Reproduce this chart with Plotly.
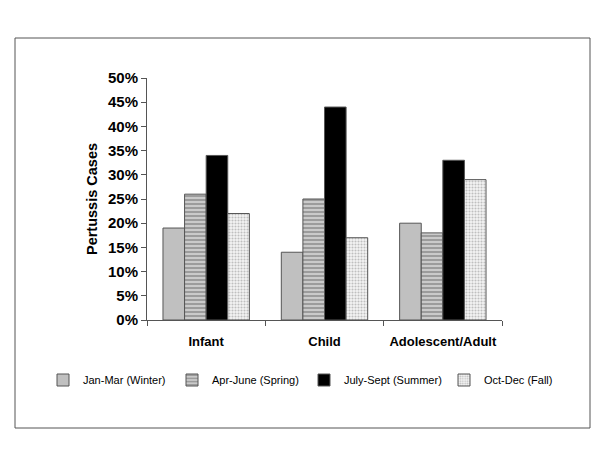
import plotly.graph_objects as go

categories = ["Infant", "Child", "Adolescent/Adult"]
series_names = ["Jan-Mar (Winter)", "Apr-June (Spring)", "July-Sept (Summer)", "Oct-Dec (Fall)"]
winter = [19, 14, 20]
spring = [26, 25, 18]
summer = [34, 44, 33]
fall = [22, 17, 29]
y_ticks = [0, 5, 10, 15, 20, 25, 30, 35, 40, 45, 50]
y_tick_labels = [f"{v}%" for v in y_ticks]

W, H = 600, 455
OFF = 8  # page body margin
# desired plot area in window pixels
PL, PR, PT, PB = 147, 502, 78, 320
L, R, T, B = PL - OFF, W - (PR - OFF), PT - OFF, H - (PB - OFF)
PW, PH = PR - PL, PB - PT

def px(x):
    return (x - PL) / PW

def py(y):
    return (PB - y) / PH

FONT = "Liberation Sans, Arial, sans-serif"
outline = dict(color="#555555", width=1)

fig = go.Figure()
fig.add_trace(go.Bar(x=categories, y=winter, name=series_names[0], legend="legend",
                     marker=dict(color="#c0c0c0", line=outline)))
fig.add_trace(go.Bar(x=categories, y=spring, name=series_names[1], legend="legend2",
                     marker=dict(color="#c8c8c8", line=outline,
                                 pattern=dict(shape="-", fgcolor="#6e6e6e", bgcolor="#cacaca",
                                              size=4, solidity=0.5))))
fig.add_trace(go.Bar(x=categories, y=summer, name=series_names[2], legend="legend3",
                     marker=dict(color="#000000", line=outline)))
fig.add_trace(go.Bar(x=categories, y=fall, name=series_names[3], legend="legend4",
                     marker=dict(color="#eeeeee", line=outline,
                                 pattern=dict(shape=".", fgcolor="#8a8a8a", bgcolor="#f4f4f4",
                                              size=3, solidity=0.4))))

def leg(xpix):
    return dict(orientation="h", x=px(xpix), xanchor="left", y=py(380), yanchor="middle",
                font=dict(family=FONT, size=11, color="#000000"),
                bgcolor="rgba(0,0,0,0)")

fig.update_layout(
    width=W, height=H,
    margin=dict(l=L, r=R, t=T, b=B, autoexpand=False),
    paper_bgcolor="white", plot_bgcolor="white",
    barmode="group", bargap=0.27, bargroupgap=0,
    font=dict(family=FONT, color="#000000"),
    showlegend=True,
    legend=leg(43), legend2=leg(172), legend3=leg(304), legend4=leg(444),
    xaxis=dict(showline=True, linecolor="#555555", linewidth=1,
               ticks="outside", ticklen=5, tickcolor="#555555",
               tickson="boundaries", ticklabelstandoff=9,
               tickfont=dict(family=FONT, size=13, color="#000000", weight="bold"),
               showgrid=False, zeroline=False),
    yaxis=dict(range=[0, 50], tickvals=y_ticks, ticktext=y_tick_labels,
               showline=True, linecolor="#555555", linewidth=1,
               ticks="outside", ticklen=5, tickcolor="#555555",
               tickfont=dict(family=FONT, size=15, color="#000000", weight="bold"),
               showgrid=False, zeroline=False,
               title=dict(text="Pertussis Cases", standoff=6,
                          font=dict(family=FONT, size=14.5, color="#000000", weight="bold"))),
    shapes=[dict(type="rect", xref="paper", yref="paper",
                 x0=px(15), x1=px(590), y0=py(428), y1=py(38),
                 line=dict(color="#555555", width=1), layer="below")],
)

fig.write_html("out.html")
